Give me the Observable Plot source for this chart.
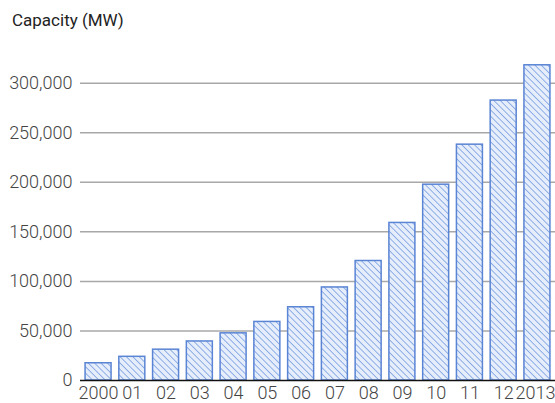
<!DOCTYPE html>
<html>
<head>
<meta charset="utf-8">
<script src="https://cdn.jsdelivr.net/npm/d3@7"></script>
<script src="https://cdn.jsdelivr.net/npm/@observablehq/plot@0.6"></script>
<style>
  body { margin: 0; background: #fff; width: 555px; height: 403px; overflow: hidden; }
  #title { font-family: Roboto, "Noto Sans", sans-serif; font-size: 17px; color: #222; height: 40px; line-height: 40px; padding-left: 12px; }
  #chart svg { display: block; overflow: hidden; }
</style>
</head>
<body>
<div id="title">Capacity (MW)</div>
<div id="chart"></div>
<script>
const years = [2000, 2001, 2002, 2003, 2004, 2005, 2006, 2007, 2008, 2009, 2010, 2011, 2012, 2013];
const yearLabels = ["2000", "01", "02", "03", "04", "05", "06", "07", "08", "09", "10", "11", "12", "2013"];
const capacity = [17400, 23900, 31100, 39400, 47600, 59100, 73900, 93900, 120600, 159000, 197600, 238000, 282500, 318100];
const yTicks = [0, 50000, 100000, 150000, 200000, 250000, 300000];

const data = years.map((y, i) => ({year: y, value: capacity[i]}));
const labelOf = new Map(years.map((y, i) => [y, yearLabels[i]]));
const lastYear = years[years.length - 1];

const plot = Plot.plot({
  width: 555,
  height: 363,
  marginLeft: 80,
  marginRight: 0,
  marginTop: 13,
  marginBottom: 23,
  style: { fontFamily: "Roboto, 'Noto Sans', sans-serif", fontSize: "18px", fontWeight: 300, color: "#444", background: "#fff" },
  x: { domain: years, paddingInner: 0.23, paddingOuter: 0.15, round: false, label: null },
  y: { domain: [0, 330000], label: null },
  marks: [
    Plot.ruleY(yTicks.filter(d => d > 0), { stroke: "#a8a8a8", strokeWidth: 1.5, strokeOpacity: 1 }),
    Plot.barY(data, { x: "year", y: "value", fill: "url(#hatch)", stroke: "#5a84d4", strokeWidth: 1.5 }),
    Plot.ruleY([0], { stroke: "#111", strokeWidth: 1.5 }),
    Plot.axisY({ ticks: yTicks, tickSize: 0, tickPadding: 8, tickFormat: d3.format(","), fill: "#444", fontSize: 18 }),
    Plot.axisX({ ticks: years.filter(d => d !== lastYear), tickSize: 0, tickPadding: 6, tickFormat: d => labelOf.get(d), fill: "#444", fontSize: 18 }),
    Plot.axisX({ ticks: [lastYear], tickSize: 0, tickPadding: 6, tickFormat: d => labelOf.get(d), fill: "#444", fontSize: 18, textAnchor: "end", dx: 18 })
  ]
});

const ns = "http://www.w3.org/2000/svg";
const defs = document.createElementNS(ns, "defs");
const pat = document.createElementNS(ns, "pattern");
pat.setAttribute("id", "hatch");
pat.setAttribute("patternUnits", "userSpaceOnUse");
pat.setAttribute("width", "4.5");
pat.setAttribute("height", "4.5");
pat.setAttribute("patternTransform", "rotate(-45)");
const bg = document.createElementNS(ns, "rect");
bg.setAttribute("width", "4.5");
bg.setAttribute("height", "4.5");
bg.setAttribute("fill", "#e6eefc");
const ln = document.createElementNS(ns, "line");
ln.setAttribute("x1", "0"); ln.setAttribute("y1", "0");
ln.setAttribute("x2", "0"); ln.setAttribute("y2", "4.5");
ln.setAttribute("stroke", "#7a9ee0");
ln.setAttribute("stroke-width", "1.6");
pat.appendChild(bg);
pat.appendChild(ln);
defs.appendChild(pat);
plot.insertBefore(defs, plot.firstChild);

document.getElementById("chart").appendChild(plot);
</script>
</body>
</html>
